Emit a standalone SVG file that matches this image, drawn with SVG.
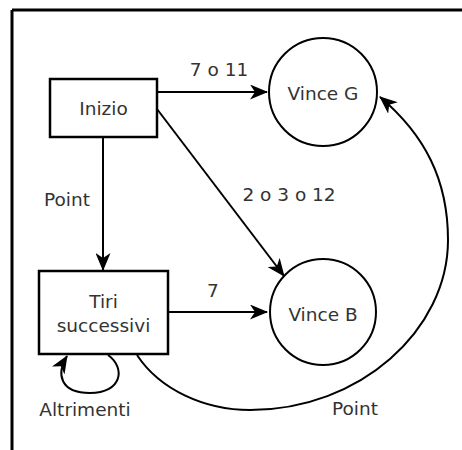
<svg xmlns="http://www.w3.org/2000/svg" width="462" height="450" viewBox="0 0 462 450">
<style>
.box{fill:#fff;stroke:#000;stroke-width:2.5}
.state{fill:#fff;stroke:#000;stroke-width:2}
.edge{fill:none;stroke:#000;stroke-width:2}
text{font-family:"DejaVu Sans",sans-serif;font-size:18.5px;fill:#333;text-anchor:middle}
</style>
<defs>
<marker id="arr" markerUnits="userSpaceOnUse" viewBox="0 0 18 15" refX="17" refY="7.5" markerWidth="18" markerHeight="15" orient="auto">
<path d="M0,0 L18,7.5 L0,15 L5,7.5 z" fill="#000"/>
</marker>
</defs>
<rect x="0" y="0" width="462" height="450" fill="#fff"/>
<g id="frame">
<path d="M12,10 H462 M12,10 V450" fill="none" stroke="#000" stroke-width="3"/>
</g>
<g id="connectors">
<path class="edge" d="M157,92 L267,92" marker-end="url(#arr)"/>
<path class="edge" d="M157,109 L284,276" marker-end="url(#arr)"/>
<path class="edge" d="M103,137 L103,270" marker-end="url(#arr)"/>
<path class="edge" d="M168,312 L267,312" marker-end="url(#arr)"/>
<path class="edge" d="M108,355 C126,368 122,393 90,393 C60,393 56,374 67,356" marker-end="url(#arr)"/>
<path class="edge" d="M137,355 C160,390 205,410 250,410 C360,410 448,330 448,240 C448,180 425,135 380,97" marker-end="url(#arr)"/>
<text x="219" y="76">7 o 11</text>
<text x="289" y="201">2 o 3 o 12</text>
<text x="67" y="206">Point</text>
<text x="213" y="297">7</text>
<text x="85" y="416">Altrimenti</text>
<text x="355" y="415">Point</text>
</g>
<g id="inizio">
<rect class="box" x="50" y="79" width="107" height="58"/>
<text x="103.5" y="115">Inizio</text>
</g>
<g id="tiri">
<rect class="box" x="39" y="271" width="129" height="83"/>
<text x="103.5" y="308">Tiri</text>
<text x="103.5" y="332">successivi</text>
</g>
<g id="vinceG">
<circle class="state" cx="323" cy="92" r="54"/>
<text x="323" y="100">Vince G</text>
</g>
<g id="vinceB">
<circle class="state" cx="323" cy="312" r="53"/>
<text x="323" y="321">Vince B</text>
</g>
</svg>
